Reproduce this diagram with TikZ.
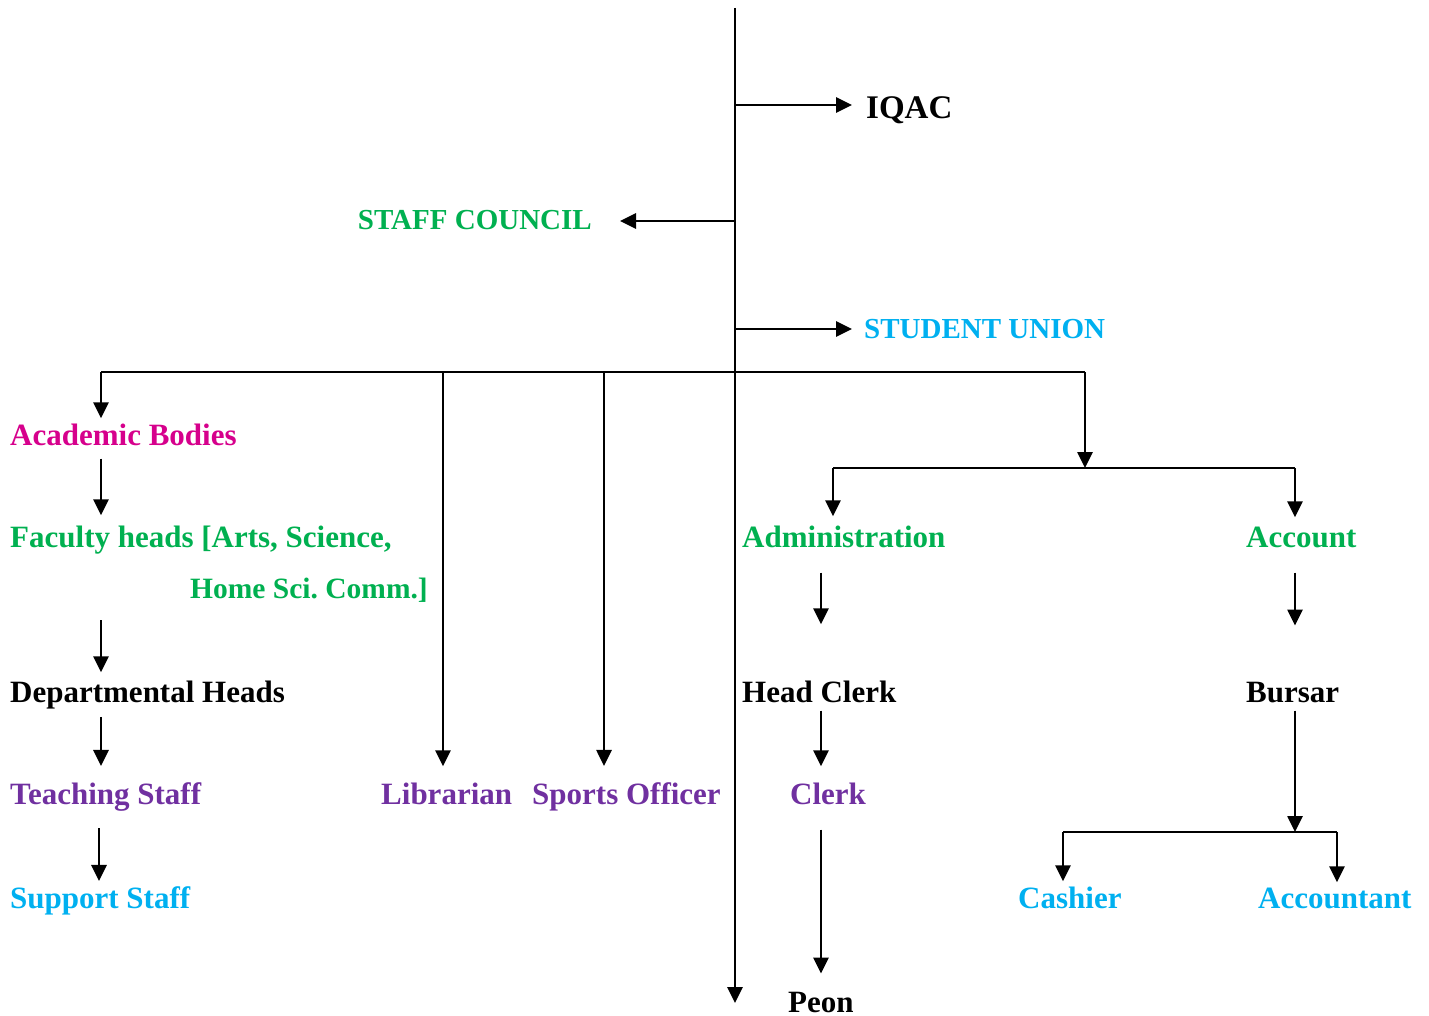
\documentclass[tikz,border=0pt]{standalone}
\usepackage{fontspec}
\setmainfont{Liberation Serif}
\usetikzlibrary{arrows.meta}
\definecolor{cmag}{RGB}{214,0,140}
\definecolor{cgreen}{RGB}{0,176,80}
\definecolor{cblue}{RGB}{0,176,240}
\definecolor{cpurple}{RGB}{112,48,160}
\frenchspacing
\tikzset{
  lbl/.style={inner xsep=0pt, inner ysep=5pt, anchor=base west, font=\fontsize{31}{37}\selectfont\bfseries},
  lblcap/.style={lbl, font=\fontsize{29}{35}\selectfont\bfseries},
  ln/.style={line width=2.7pt, draw=black},
  arr/.style={ln, -{Triangle[length=16pt,width=15pt]}},
}
\begin{document}
\begin{tikzpicture}[x=1pt,y=-1pt]
\useasboundingbox (0,0) rectangle (1429,1016);
% top labels
\node[lbl, font=\fontsize{33}{39}\selectfont\bfseries] (iqac) at (866,119) {IQAC};
\node[lblcap, anchor=base east, text=cgreen] (staff) at (592,230) {STAFF COUNCIL};
\node[lblcap, text=cblue] (su) at (864,338) {STUDENT UNION};
% left column
\node[lbl, text=cmag] (acad) at (10,445) {Academic Bodies};
\node[lbl, text=cgreen] (fac) at (10,547) {Faculty heads [Arts, Science,};
\node[lbl, text=cgreen, font=\fontsize{29.5}{35}\selectfont\bfseries] (fac2) at (190,598) {Home Sci. Comm.]};
\node[lbl] (dept) at (10,702) {Departmental Heads};
\node[lbl, text=cpurple] (teach) at (10,804) {Teaching Staff};
\node[lbl, text=cblue] (supp) at (10,908) {Support Staff};
\node[lbl, text=cpurple] (lib) at (381,804) {Librarian};
\node[lbl, text=cpurple] (sports) at (532,804) {Sports Officer};
% right part
\node[lbl, text=cgreen] (adm) at (742,547) {Administration};
\node[lbl, text=cgreen] (acc) at (1246,547) {Account};
\node[lbl] (hc) at (742,702) {Head Clerk};
\node[lbl] (bursar) at (1246,702) {Bursar};
\node[lbl, text=cpurple] (clerk) at (790,804) {Clerk};
\node[lbl] (peon) at (788,1012) {Peon};
\node[lbl, text=cblue] (cash) at (1018,908) {Cashier};
\node[lbl, text=cblue] (acct) at (1258,908) {Accountant};
% coordinates
\coordinate (top) at (735,8);
\coordinate (bot) at (735,1003);
\coordinate (jIQAC) at (735,105);
\coordinate (jStaff) at (735,221);
\coordinate (jSU) at (735,329);
\coordinate (cA) at (101,372);
\coordinate (cL) at (443,372);
\coordinate (cS) at (604,372);
\coordinate (cR) at (1085,372);
\coordinate (jAA) at (1085,468);
\coordinate (cAdm) at (833,468);
\coordinate (cAcc) at (1295,468);
\coordinate (colB) at (821,600);
\coordinate (colT) at (99,850);
\coordinate (jB) at (1295,832);
\coordinate (cCash) at (1063,832);
\coordinate (cAcct) at (1337,832);
% trunk
\draw[arr] (top) -- (bot);
\draw[arr, shorten >=14pt] (jIQAC) -- (jIQAC -| iqac.west);
\draw[arr, shorten >=28pt] (jStaff) -- (jStaff -| staff.east);
\draw[arr, shorten >=12pt] (jSU) -- (jSU -| su.west);
% horizontal branch
\draw[ln] (cA) -- (cR);
\draw[arr] (cA) -- (acad.north -| cA);
\draw[arr, shorten >=11pt] (cL) -- (lib.north -| cL);
\draw[arr, shorten >=11pt] (cS) -- (sports.north -| cS);
% left column
\draw[arr, shorten <=8pt, shorten >=5pt] (acad.south -| cA) -- (fac.north -| cA);
\draw[arr, shorten <=13pt, shorten >=3pt] (fac2.south -| cA) -- (dept.north -| cA);
\draw[arr, shorten <=3pt, shorten >=11pt] (dept.south -| cA) -- (teach.north -| cA);
\draw[arr, shorten <=12pt] (teach.south -| colT) -- (supp.north -| colT);
% right branch
\draw[arr] (cR) -- (jAA);
\draw[ln] (cAdm) -- (cAcc);
\draw[arr, shorten >=4pt] (cAdm) -- (adm.north -| cAdm);
\draw[arr, shorten >=4pt] (cAcc) -- (acc.north -| cAcc);
\draw[arr, shorten <=20pt, shorten >=51pt] (adm.south -| colB) -- (hc.north -| colB);
\draw[arr, shorten <=20pt, shorten >=51pt] (acc.south -| cAcc) -- (bursar.north -| cAcc);
\draw[arr, shorten <=3pt, shorten >=11pt] (hc.south -| colB) -- (clerk.north -| colB);
\draw[arr, shorten <=20pt, shorten >=13pt] (clerk.south -| colB) -- (peon.north -| colB);
\draw[arr, shorten <=3pt] (bursar.south -| jB) -- (jB);
\draw[ln] (cCash) -- (cAcct);
\draw[arr] (cCash) -- (cash.north -| cCash);
\draw[arr] (cAcct) -- (acct.north -| cAcct);
\end{tikzpicture}
\end{document}
